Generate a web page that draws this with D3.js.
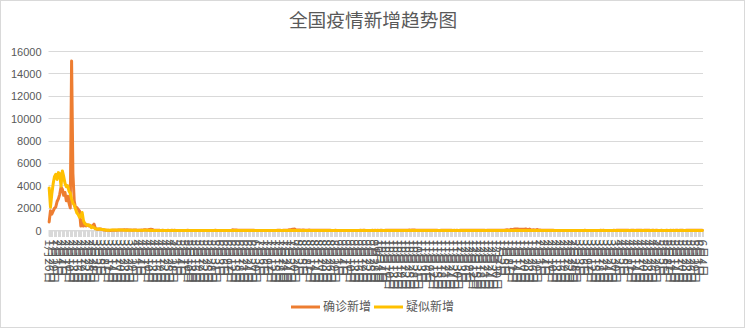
<!DOCTYPE html>
<html>
<head>
<meta charset="utf-8">
<script src="https://cdn.jsdelivr.net/npm/d3@7"></script>
<style>
  html, body { margin: 0; padding: 0; background: #fff; }
  svg { display: block; }
  text { font-family: "Noto Sans CJK SC", "DejaVu Sans", sans-serif; fill: #595959; }
</style>
</head>
<body>
<svg id="chart" width="746" height="328"></svg>
<script>
// ---- data ----
const chartTitle = "全国疫情新增趋势图";
const seriesNames = ["确诊新增", "疑似新增"];
const seriesColors = ["#ED7D31", "#FFC000"];
const firstDay = "2020-01-26";
const lastDay = "2021-06-04";
const yTickValues = [0, 2000, 4000, 6000, 8000, 10000, 12000, 14000, 16000];
const labelEvery = 3;

// daily new confirmed cases
const confirmed = [
  769, 1771, 1459, 1737, 1982, 2102,
  2590, 2829, 3235, 3887, 3694, 3143, 3399, 2656, 3062, 2478, 2015, 15152, 5090, 2641, 2009, 2048, 1886, 1749, 394, 889, 397, 648, 409, 508, 406, 433, 327, 427, 573,
  202, 125, 119, 139, 143, 99, 44, 40, 19, 24, 15, 8, 11, 20, 16, 21, 13, 34, 39, 41, 46, 39, 78, 47, 67, 55, 54, 45, 31, 48, 36,
  35, 31, 19, 30, 39, 32, 62, 63, 42, 46, 99, 108, 89, 46, 26, 27, 27, 16, 12, 11, 30, 10, 6, 11, 12, 3, 6, 22, 4, 12,
  2, 1, 2, 1, 2, 4, 2, 1, 1, 14, 1, 7, 3, 4, 8, 5, 7, 6, 6, 3, 4, 2, 3, 11, 7, 1, 2, 4, 2, 4, 16,
  5, 1, 7, 5, 5, 5, 4, 3, 3, 3, 11, 11, 57, 49, 40, 44, 28, 32, 26, 27, 18, 29, 21, 12, 19, 17, 12, 17, 19, 3,
  3, 5, 3, 8, 3, 7, 5, 2, 3, 7, 5, 8, 7, 3, 4, 11, 13, 16, 22, 11, 14, 22, 21, 34, 46, 61, 68, 101, 105, 127, 45,
  49, 36, 43, 27, 37, 37, 31, 23, 23, 44, 19, 20, 26, 22, 24, 22, 13, 22, 22, 22, 22, 22, 23, 16, 15, 17, 9, 9, 7, 14, 8,
  10, 5, 11, 10, 10, 7, 6, 6, 7, 7, 10, 10, 10, 9, 7, 10, 7, 32, 8, 14, 14, 11, 9, 7, 8, 7, 15, 10, 14, 10,
  20, 11, 12, 15, 8, 10, 22, 23, 19, 12, 21, 13, 16, 28, 13, 17, 24, 13, 24, 12, 13, 21, 25, 20, 40, 26, 42, 35, 44, 33, 25,
  24, 24, 33, 23, 14, 22, 18, 12, 20, 12, 21, 15, 18, 14, 13, 10, 11, 17, 13, 16, 16, 20, 20, 21, 20, 16, 10, 14, 11, 21,
  10, 12, 23, 15, 23, 15, 13, 21, 14, 28, 21, 24, 22, 20, 15, 19, 18, 15, 20, 23, 15, 9, 19, 23, 20, 24, 17, 16, 23, 24, 25,
  15, 18, 33, 33, 32, 53, 63, 53, 37, 103, 55, 115, 138, 144, 130, 109, 118, 103, 118, 103, 144, 107, 80, 124, 75, 54, 75, 55, 53, 92, 33,
  42, 30, 25, 28, 16, 13, 14, 15, 12, 14, 14, 7, 5, 9, 10, 11, 7, 11, 7, 8, 8, 6, 10, 10, 10, 10, 7, 9,
  9, 10, 9, 10, 9, 6, 12, 8, 8, 11, 10, 8, 10, 10, 8, 8, 10, 7, 13, 6, 15, 10, 10, 7, 11, 11, 7, 10, 12, 9, 14,
  15, 21, 14, 26, 16, 21, 17, 16, 16, 11, 17, 15, 18, 9, 14, 17, 15, 12, 13, 7, 21, 19, 19, 16, 12, 10, 13, 13, 11, 24,
  13, 5, 4, 12, 10, 9, 9, 17, 10, 9, 19, 11, 12, 8, 18, 17, 8, 15, 14, 32, 10, 11, 28, 14, 16, 21, 20, 26, 26, 26, 19,
  28, 31, 24, 22
];

// daily new suspected cases
const suspected = [
  3806, 2077, 3248, 4148, 4812, 5019,
  4562, 5173, 5072, 3971, 5328, 4833, 4214, 3916, 4008, 3536, 3342, 2807, 2450, 2277, 1918, 1563, 1432, 1185, 1277, 1614, 882, 620, 530, 439, 508, 452, 248, 335, 251,
  151, 129, 143, 143, 102, 99, 84, 60, 36, 31, 33, 33, 45, 39, 41, 45, 45, 44, 44, 48, 49, 47, 29, 32, 22, 34, 27, 28, 26, 20, 17,
  17, 9, 16, 24, 11, 16, 16, 17, 19, 16, 11, 13, 3, 6, 4, 5, 6, 4, 4, 0, 4, 2, 0, 1, 3, 3, 1, 2, 2, 0,
  1, 0, 1, 0, 2, 1, 0, 1, 0, 0, 1, 2, 0, 1, 1, 0, 2, 1, 0, 1, 2, 1, 0, 0, 1, 0, 1, 3, 0, 1, 2,
  0, 1, 2, 0, 1, 0, 1, 0, 1, 2, 1, 3, 6, 4, 3, 2, 4, 2, 1, 3, 2, 1, 2, 0, 1, 2, 1, 0, 1, 0,
  1, 0, 1, 2, 0, 1, 0, 1, 1, 0, 2, 1, 0, 1, 0, 1, 2, 1, 3, 1, 2, 1, 0, 2, 1, 3, 2, 1, 2, 1, 0,
  1, 2, 0, 1, 1, 0, 1, 2, 0, 1, 0, 1, 1, 0, 2, 1, 0, 1, 0, 1, 0, 2, 1, 0, 1, 0, 0, 1, 2, 0, 1,
  0, 1, 1, 0, 2, 0, 1, 0, 1, 0, 0, 1, 2, 1, 0, 1, 0, 1, 0, 0, 1, 1, 0, 2, 0, 1, 0, 1, 0, 1,
  0, 1, 0, 1, 1, 0, 0, 2, 1, 0, 1, 3, 1, 0, 1, 0, 1, 0, 2, 0, 1, 1, 0, 0, 2, 1, 0, 1, 0, 1, 0,
  1, 0, 1, 0, 2, 1, 0, 1, 0, 1, 1, 0, 0, 1, 2, 0, 1, 0, 1, 0, 0, 1, 2, 1, 0, 1, 0, 1, 0, 1,
  0, 1, 1, 0, 1, 0, 2, 1, 0, 1, 0, 1, 0, 0, 1, 2, 1, 0, 1, 3, 1, 2, 0, 1, 1, 2, 0, 1, 2, 1, 1,
  2, 1, 3, 2, 4, 3, 5, 4, 2, 6, 3, 5, 7, 4, 6, 3, 4, 5, 3, 4, 6, 3, 2, 4, 2, 3, 1, 2, 1, 2, 1,
  1, 0, 2, 1, 0, 1, 0, 1, 0, 1, 0, 0, 1, 0, 1, 0, 1, 0, 0, 1, 0, 1, 0, 0, 1, 0, 1, 0,
  0, 1, 0, 1, 0, 0, 1, 0, 1, 0, 1, 0, 0, 1, 0, 1, 0, 0, 1, 0, 2, 0, 1, 0, 0, 1, 0, 1, 0, 0, 1,
  0, 1, 0, 1, 0, 2, 1, 0, 1, 0, 0, 1, 0, 1, 0, 0, 1, 0, 1, 0, 0, 1, 0, 1, 0, 1, 0, 0, 1, 0,
  1, 0, 0, 1, 0, 1, 0, 0, 1, 0, 1, 0, 0, 1, 0, 1, 0, 0, 1, 0, 1, 0, 2, 1, 0, 1, 2, 1, 1, 2, 1,
  2, 1, 0, 1
];

// ---- layout ----
const W = 746, H = 328;
const plot = { left: 48.5, right: 703, top: 51.5, bottom: 230.5 };

const svg = d3.select("#chart");

// chart area border
svg.append("rect")
  .attr("x", 0.5).attr("y", 0.5)
  .attr("width", W - 2).attr("height", H - 1)
  .attr("fill", "#fff").attr("stroke", "#d9d9d9");

// title
svg.append("text")
  .attr("x", 373).attr("y", 27)
  .attr("text-anchor", "middle")
  .style("font-size", "18.7px")
  .text(chartTitle);

// categories: one per day
const parse = d3.timeParse("%Y-%m-%d");
const days = d3.timeDay.range(parse(firstDay), d3.timeDay.offset(parse(lastDay), 1));
const fmt = d3.timeFormat("%-m月%-d日");
const categories = days.map(fmt);
const n = categories.length;

const x = d3.scaleBand().domain(d3.range(n)).range([plot.left, plot.right]).paddingInner(0).paddingOuter(0);
const xc = i => x(i) + x.bandwidth() / 2;
const y = d3.scaleLinear().domain([0, 16000]).range([plot.bottom, plot.top]);

// horizontal gridlines
svg.append("g")
  .selectAll("line")
  .data(yTickValues)
  .join("line")
  .attr("x1", plot.left).attr("x2", plot.right)
  .attr("y1", d => Math.round(y(d) - 0.5) + 0.5)
  .attr("y2", d => Math.round(y(d) - 0.5) + 0.5)
  .attr("stroke", "#d9d9d9").attr("stroke-width", 1);

// value axis labels
const yAxis = svg.append("g")
  .attr("transform", `translate(${plot.left - 7},0)`)
  .call(d3.axisLeft(y).tickValues(yTickValues).tickSize(0).tickPadding(0).tickFormat(d3.format("d")));
yAxis.select(".domain").remove();
yAxis.selectAll("text")
  .style("font-family", "'Liberation Sans', sans-serif")
  .style("font-size", "11px")
  .attr("fill", "#595959");

// category tick marks at band boundaries
const xEdge = d3.scaleLinear().domain([0, n]).range([plot.left, plot.right]);
const tickAxis = svg.append("g")
  .attr("transform", `translate(0,${plot.bottom})`)
  .call(d3.axisBottom(xEdge).tickValues(d3.range(n + 1)).tickSize(6).tickFormat(""));
tickAxis.select(".domain").attr("stroke", "#d9d9d9");
tickAxis.selectAll(".tick line")
  .attr("stroke", "#d9d9d9")
  .attr("shape-rendering", "crispEdges");

// category labels, rotated to read downward
const labelAxis = svg.append("g")
  .attr("transform", `translate(0,${plot.bottom})`)
  .call(d3.axisBottom(x)
    .tickValues(d3.range(0, n, labelEvery))
    .tickSize(0)
    .tickFormat(i => categories[i]));
labelAxis.select(".domain").remove();
labelAxis.selectAll("text")
  .attr("transform", "rotate(90)")
  .attr("x", 9).attr("y", 0).attr("dy", "0.35em")
  .style("text-anchor", "start")
  .style("font-size", "12px")
  .attr("fill", "#595959");

// series lines
const line = d3.line().x((d, i) => xc(i)).y(d => y(d));
[confirmed, suspected].forEach((vals, k) => {
  svg.append("path")
    .datum(vals)
    .attr("fill", "none")
    .attr("stroke", seriesColors[k])
    .attr("stroke-width", 3)
    .attr("stroke-linejoin", "round")
    .attr("stroke-linecap", "round")
    .attr("d", line);
});

// legend
const legendItems = [
  { name: seriesNames[0], color: seriesColors[0], x: 291 },
  { name: seriesNames[1], color: seriesColors[1], x: 374 }
];
const lg = svg.append("g").attr("transform", "translate(0,307)");
legendItems.forEach(it => {
  lg.append("line")
    .attr("x1", it.x).attr("x2", it.x + 29)
    .attr("y1", 0).attr("y2", 0)
    .attr("stroke", it.color).attr("stroke-width", 3);
  lg.append("text")
    .attr("x", it.x + 32).attr("y", 0).attr("dy", "0.36em")
    .style("font-size", "12px")
    .text(it.name);
});
</script>
</body>
</html>
